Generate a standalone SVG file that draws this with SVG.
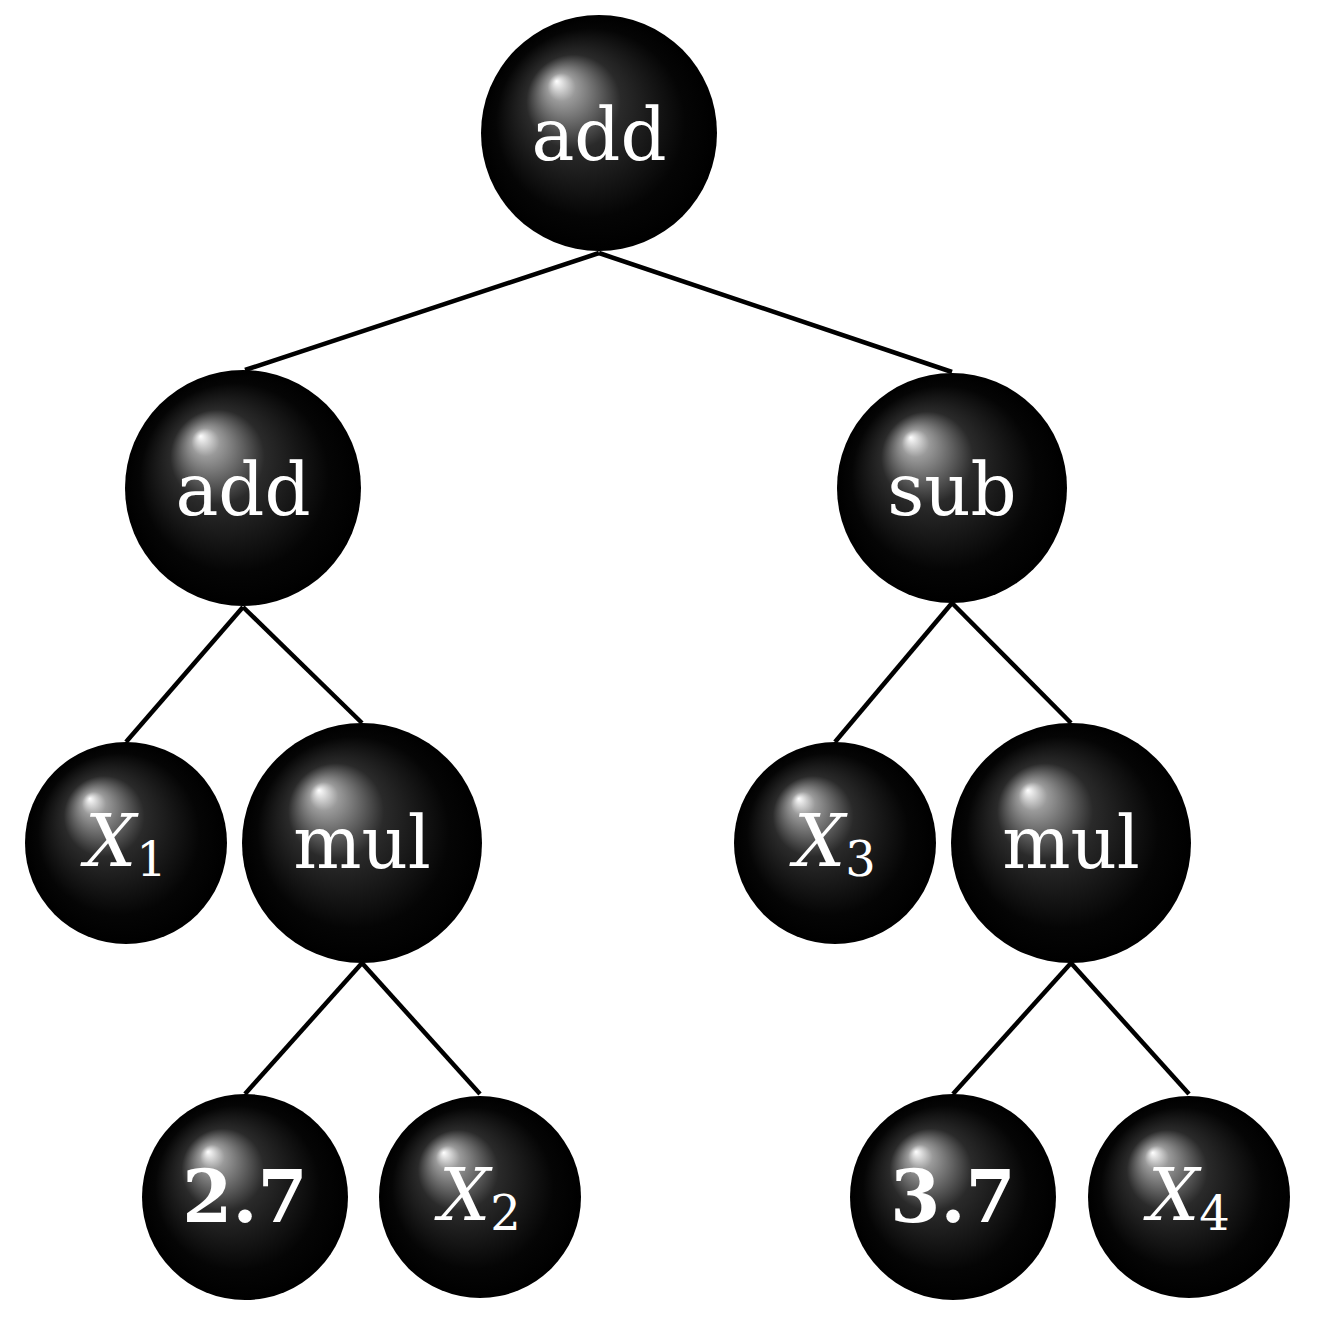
<svg xmlns="http://www.w3.org/2000/svg" width="1318" height="1325" viewBox="0 0 1318 1325">
<defs>
<radialGradient id="ball" cx="0.5" cy="0.5" r="0.5" fx="0.32" fy="0.28">
<stop offset="0" stop-color="#ffffff"/>
<stop offset="0.12" stop-color="#9a9a9a"/>
<stop offset="0.4" stop-color="#2a2a2a"/>
<stop offset="0.8" stop-color="#050505"/>
<stop offset="1" stop-color="#000000"/>
</radialGradient>
</defs>
<style>
.b{fill:url(#ball)}
.t{fill:#fff;font-family:"DejaVu Serif","Liberation Serif",serif;font-size:72px;text-anchor:middle}
.i{font-style:italic}
.s{font-size:48px;font-style:normal}
.bold{font-weight:bold}
.e line{stroke:#000;stroke-width:4.5}
</style>
<rect width="1318" height="1325" fill="#fff"/>
<g class="e" id="edges">
<line x1="599" y1="253" x2="245" y2="370"/>
<line x1="599" y1="253" x2="952" y2="372"/>
<line x1="243" y1="607" x2="126" y2="742"/>
<line x1="243" y1="607" x2="362" y2="723"/>
<line x1="952" y1="603" x2="835" y2="742"/>
<line x1="952" y1="603" x2="1071" y2="723"/>
<line x1="362" y1="963" x2="245" y2="1094"/>
<line x1="362" y1="963" x2="480" y2="1094"/>
<line x1="1071" y1="963" x2="953" y2="1094"/>
<line x1="1071" y1="963" x2="1189" y2="1094"/>
</g>
<g id="n1"><circle class="b" cx="599" cy="133" r="118"/><text class="t" x="599" y="160">add</text></g>
<g id="n2"><circle class="b" cx="243" cy="488" r="118"/><text class="t" x="243" y="515">add</text></g>
<g id="n3"><circle class="b" cx="952" cy="488" r="115"/><text class="t" x="952" y="515">sub</text></g>
<g id="n4"><circle class="b" cx="126" cy="843" r="101"/><text class="t" x="126" y="866"><tspan class="i">X</tspan><tspan class="s" dy="10">1</tspan></text></g>
<g id="n5"><circle class="b" cx="362" cy="843" r="120"/><text class="t" x="362" y="868">mul</text></g>
<g id="n6"><circle class="b" cx="835" cy="843" r="101"/><text class="t" x="835" y="866"><tspan class="i">X</tspan><tspan class="s" dy="10">3</tspan></text></g>
<g id="n7"><circle class="b" cx="1071" cy="843" r="120"/><text class="t" x="1071" y="868">mul</text></g>
<g id="n8"><circle class="b" cx="245" cy="1197" r="103"/><text class="t bold" x="245" y="1222">2.7</text></g>
<g id="n9"><circle class="b" cx="480" cy="1197" r="101"/><text class="t" x="480" y="1220"><tspan class="i">X</tspan><tspan class="s" dy="10">2</tspan></text></g>
<g id="n10"><circle class="b" cx="953" cy="1197" r="103"/><text class="t bold" x="953" y="1222">3.7</text></g>
<g id="n11"><circle class="b" cx="1189" cy="1197" r="101"/><text class="t" x="1189" y="1220"><tspan class="i">X</tspan><tspan class="s" dy="10">4</tspan></text></g>
</svg>
